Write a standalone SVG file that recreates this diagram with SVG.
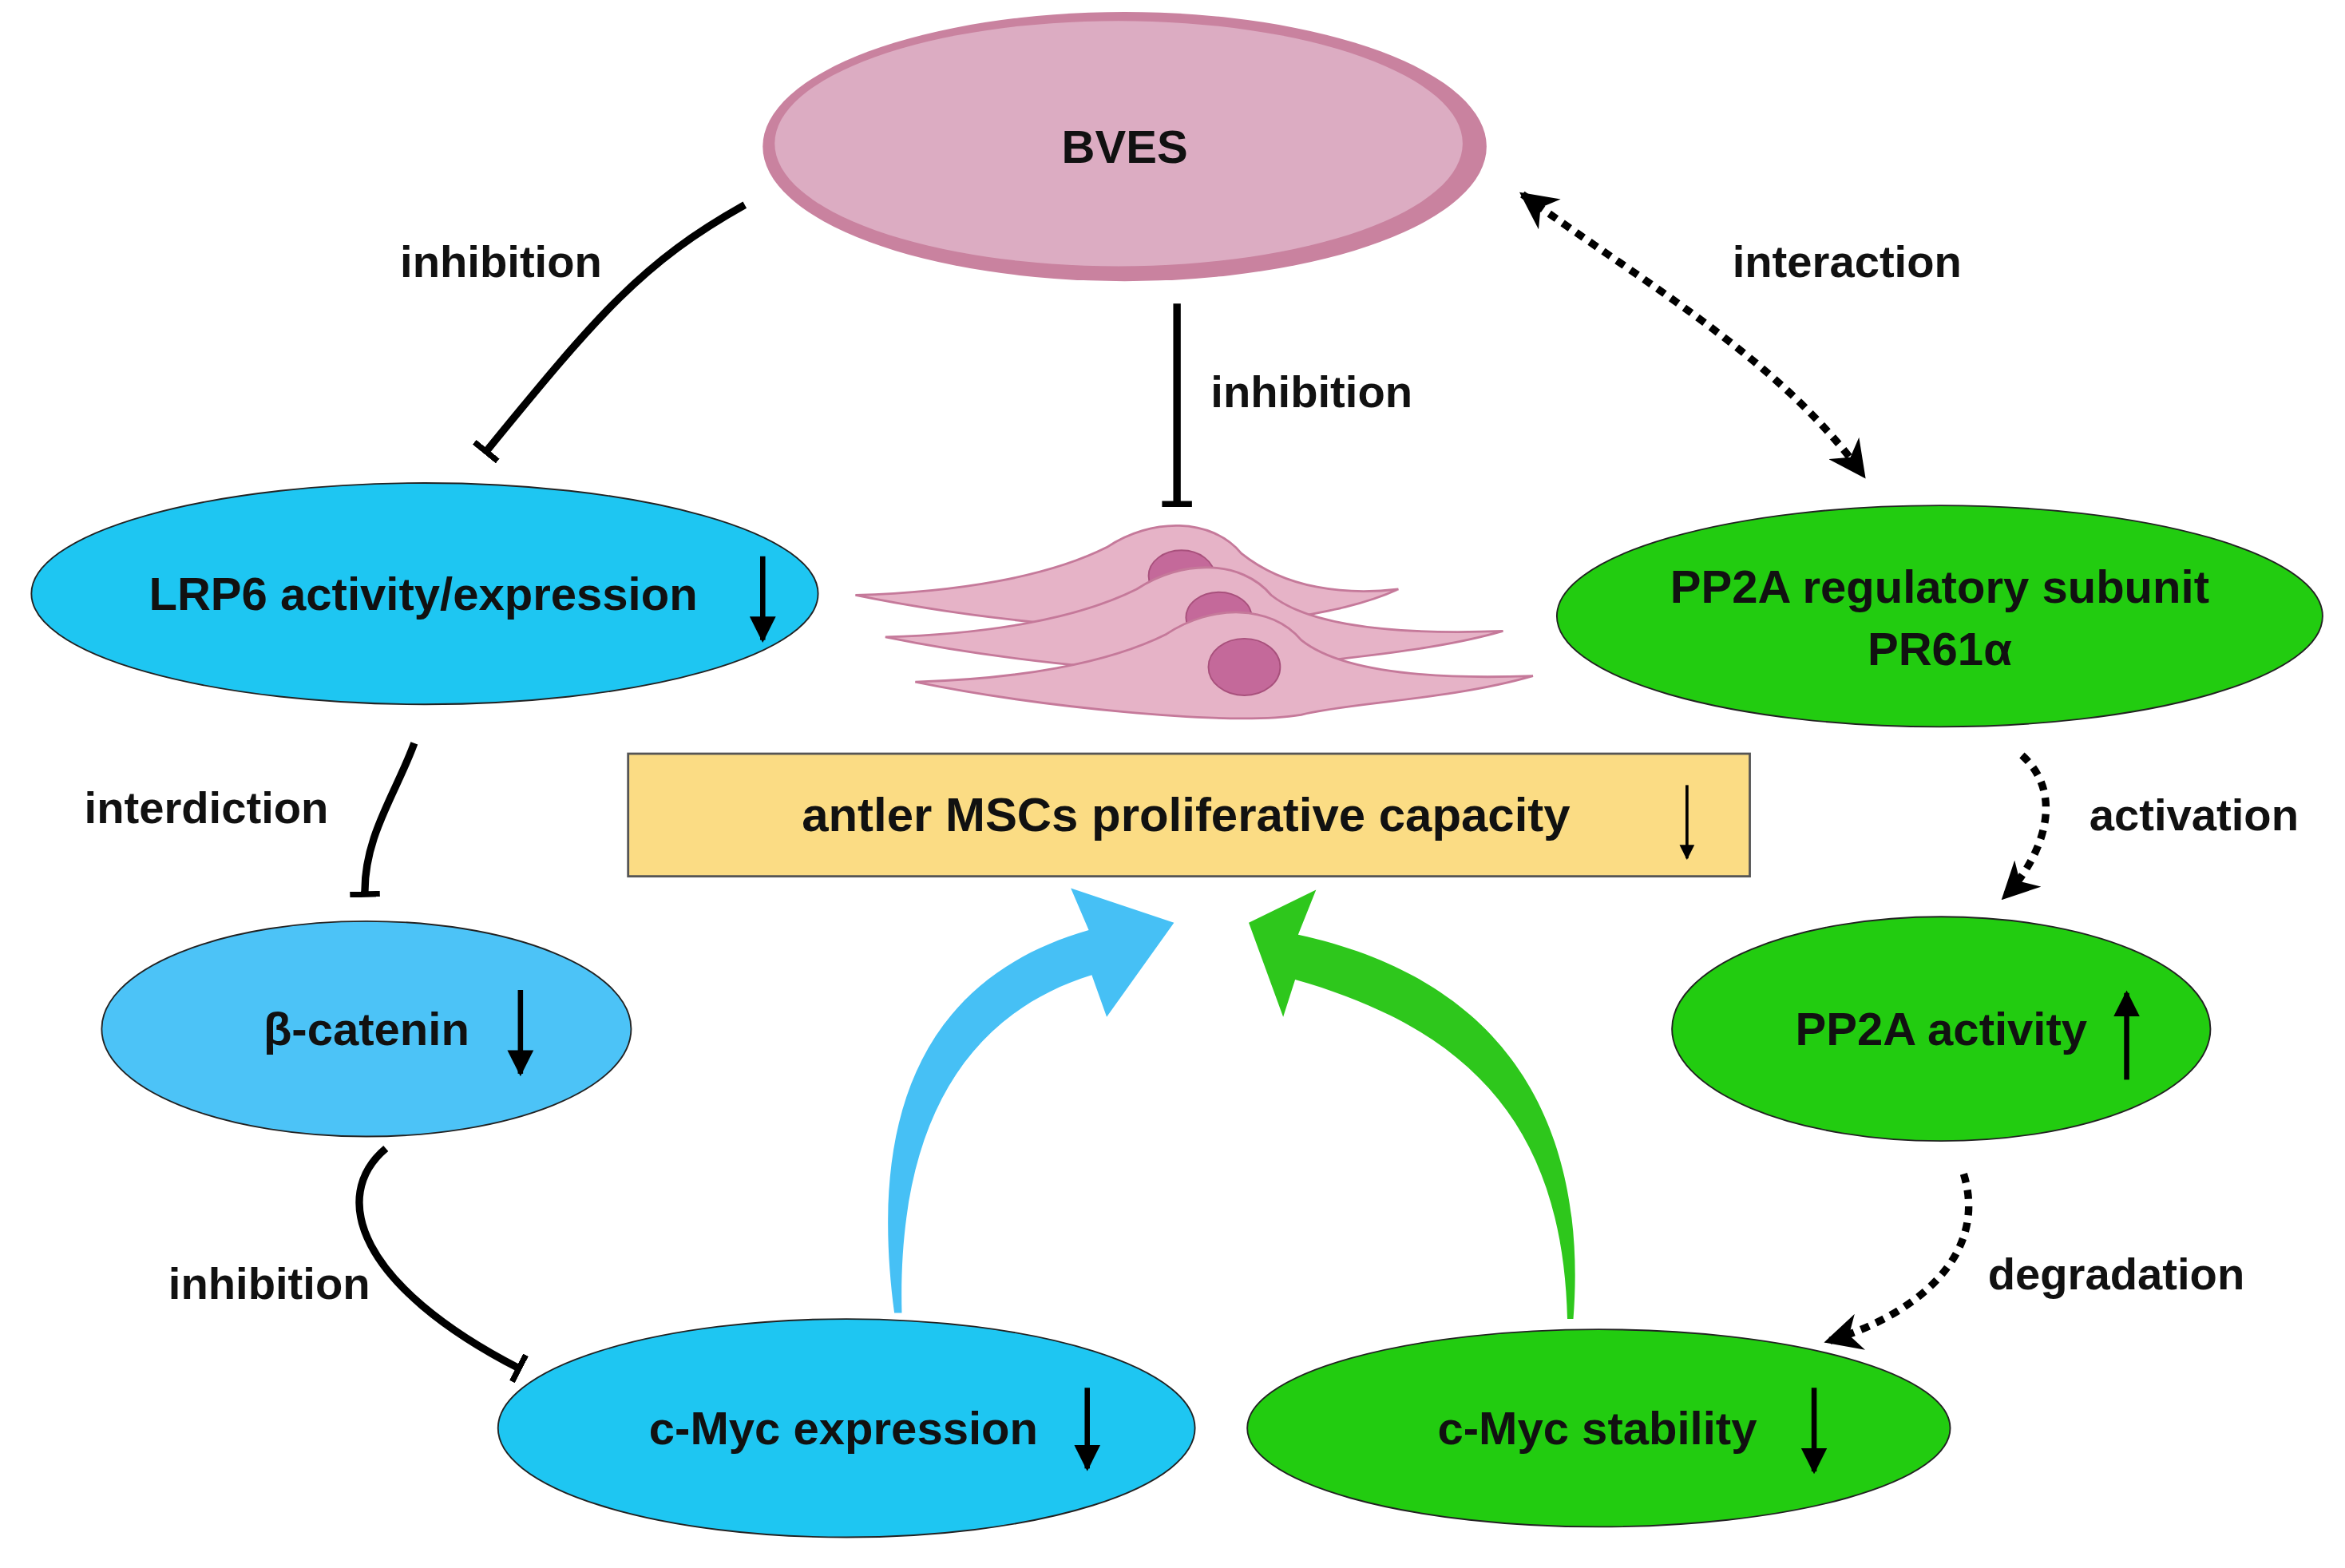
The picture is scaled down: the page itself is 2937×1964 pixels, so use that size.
<svg xmlns="http://www.w3.org/2000/svg" width="2937" height="1964" viewBox="0 0 2937 1964">
<style>
text{font-family:"Liberation Sans",Arial,sans-serif;font-weight:bold;fill:#111;text-anchor:middle;dominant-baseline:central}
.lbl{font-size:30px}
.nt{font-size:31px}
.inh{fill:none;stroke:#000;stroke-width:5;marker-end:url(#tbar)}
.dot{fill:none;stroke:#000;stroke-width:5;stroke-dasharray:6,5}
.blue{fill:#1ec6f2;stroke:#222;stroke-width:1}
.green{fill:#22cc10;stroke:#222;stroke-width:1}
.cell{fill:#e6b3c7;stroke:#c5799a;stroke-width:1.5}
.nuc{fill:#c4699a;stroke:#a8507c;stroke-width:1}
.dn{stroke:#000;stroke-width:3.5;marker-end:url(#ah)}
</style>
<defs>
<marker id="tbar" viewBox="0 0 4 20" refX="2" refY="10" markerWidth="4" markerHeight="20" markerUnits="userSpaceOnUse" orient="auto"><rect x="0" y="0" width="4" height="20" fill="#000"/></marker>
<marker id="ah" viewBox="0 0 10 10" refX="9" refY="5" markerWidth="5" markerHeight="6" orient="auto"><path d="M0,0 L10,5 L0,10 Z" fill="#000"/></marker>
<marker id="dah" viewBox="0 0 10 10" refX="9" refY="5" markerWidth="5" markerHeight="5" orient="auto-start-reverse"><path d="M0,0 L10,5 L0,10 L3,5 Z" fill="#000"/></marker>
</defs>
<rect width="2937" height="1964" fill="#fff"/>
<g transform="scale(1.8731)">
<g id="connectors">
<path class="inh" d="M498,137 C430,175 400,210 325,302"/>
<path class="inh" d="M787,203 L787,337"/>
<path class="dot" d="M1018,130 C1100,190 1190,240 1246,318" marker-start="url(#dah)" marker-end="url(#dah)"/>
<path class="inh" d="M277,497 C265,530 243,560 244,598"/>
<path class="inh" d="M258,768 C220,800 240,860 347,915"/>
<path class="dot" d="M1352,505 C1385,535 1360,580 1340,600" marker-end="url(#dah)"/>
<path class="dot" d="M1313,785 C1330,840 1280,880 1222,897" marker-end="url(#dah)"/>
<path fill="#46c0f5" d="M598,878 C585,780 595,660 728,622 L716,594 L785,617 L740,680 L730,652 C640,680 600,760 603,878 Z"/>
<path fill="#2ec71c" d="M1052,882 C1060,780 1030,660 868,625 L880,595 L835,617 L858,680 L866,655 C990,690 1045,760 1048,882 Z"/>
<text class="lbl" x="335" y="175">inhibition</text>
<text class="lbl" x="877" y="262">inhibition</text>
<text class="lbl" x="1235" y="175">interaction</text>
<text class="lbl" x="138" y="540">interdiction</text>
<text class="lbl" x="180" y="858">inhibition</text>
<text class="lbl" x="1467" y="545">activation</text>
<text class="lbl" x="1415" y="852">degradation</text>
</g>
<g id="bves">
<ellipse cx="752" cy="98" rx="242" ry="90" fill="#c9829f"/>
<ellipse cx="748" cy="96" rx="230" ry="82" fill="#dcacc2"/>
<text class="nt" x="752" y="98">BVES</text>
</g>
<g id="cells">
<g><path class="cell" d="M572,398 C640,396 700,386 740,366 C770,346 810,346 830,370 C860,394 900,398 935,394 C900,410 860,412 830,420 C780,428 650,414 572,398 Z"/><ellipse class="nuc" cx="790" cy="385" rx="22" ry="17"/></g>
<g transform="translate(20,28)"><path class="cell" d="M572,398 C640,396 700,386 740,366 C770,346 810,346 830,370 C860,394 930,396 985,394 C930,410 860,412 830,420 C780,428 650,414 572,398 Z"/><ellipse class="nuc" cx="795" cy="385" rx="22" ry="17"/></g>
<g transform="translate(40,58)"><path class="cell" d="M572,398 C640,396 700,386 740,366 C770,346 810,346 830,370 C860,394 930,396 985,394 C930,410 860,412 830,420 C780,428 650,414 572,398 Z"/><ellipse class="nuc" cx="792" cy="388" rx="24" ry="19"/></g>
</g>
<g id="capacity">
<rect x="420" y="504" width="750" height="82" fill="#fbdc84" stroke="#555" stroke-width="1.5"/>
<text x="793" y="545" style="font-size:32px">antler MSCs proliferative capacity</text>
<line x1="1128" y1="525" x2="1128" y2="574" stroke="#000" stroke-width="2" marker-end="url(#ah)"/>
</g>
<g id="lrp6"><ellipse class="blue" cx="284" cy="397" rx="263" ry="74"/><text class="nt" x="283" y="397">LRP6 activity/expression</text><line class="dn" x1="510" y1="372" x2="510" y2="428"/></g>
<g id="bcat"><ellipse class="blue" cx="245" cy="688" rx="177" ry="72" style="fill:#4cc3f7"/><text class="nt" x="245" y="688">β-catenin</text><line class="dn" x1="348" y1="662" x2="348" y2="718"/></g>
<g id="cmyc-expr"><ellipse class="blue" cx="566" cy="955" rx="233" ry="73"/><text class="nt" x="564" y="955">c-Myc expression</text><line class="dn" x1="727" y1="928" x2="727" y2="982"/></g>
<g id="pp2a-sub"><ellipse class="green" cx="1297" cy="412" rx="256" ry="74"/><text class="nt" x="1297" y="392">PP2A regulatory subunit</text><text class="nt" x="1297" y="434">PR61α</text></g>
<g id="pp2a-act"><ellipse class="green" cx="1298" cy="688" rx="180" ry="75"/><text class="nt" x="1298" y="688">PP2A activity</text><line class="dn" x1="1422" y1="722" x2="1422" y2="664"/></g>
<g id="cmyc-stab"><ellipse class="green" cx="1069" cy="955" rx="235" ry="66"/><text class="nt" x="1068" y="955">c-Myc stability</text><line class="dn" x1="1213" y1="928" x2="1213" y2="984"/></g>
</g>
</svg>
